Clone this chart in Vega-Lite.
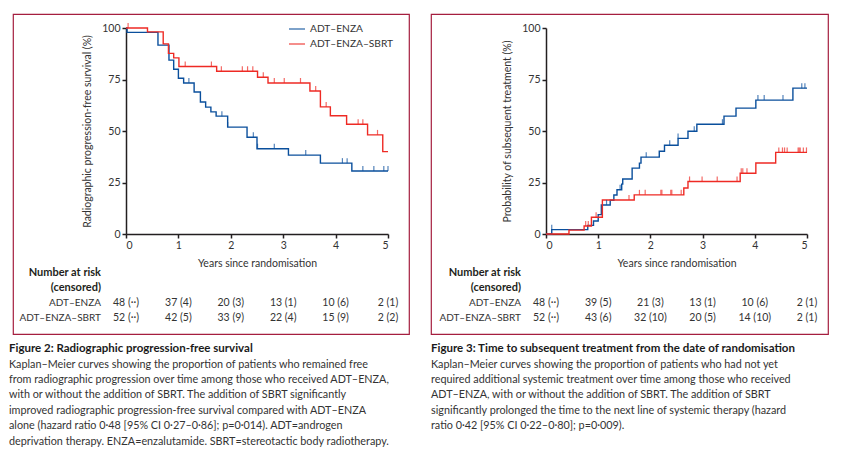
{
  "$schema": "https://vega.github.io/schema/vega-lite/v6.json",
  "background": "white",
  "padding": {"left": 8, "top": 13, "right": 4, "bottom": 0},
  "spacing": 20,
  "config": {
    "font": "Lato",
    "axis": {"grid": false, "domainColor": "#231f20", "domainWidth": 1.5, "tickColor": "#231f20", "tickWidth": 1.5, "tickSize": 4, "labelFont": "Lato", "labelFontSize": 10.5, "labelColor": "#333333", "labelPadding": 2, "titleFont": "Lato", "titleFontWeight": "normal", "titleFontSize": 10.5, "titleColor": "#333333", "minExtent": 0},
    "legend": {"orient": "none", "symbolType": "stroke", "symbolSize": 256, "symbolStrokeWidth": 1.5, "labelFont": "Lato", "labelFontSize": 10.2, "labelColor": "#333333", "labelOffset": 4, "rowPadding": 0, "padding": 0},
    "title": {"orient": "bottom", "anchor": "start", "frame": "group", "font": "Lato", "fontSize": 11.5, "fontWeight": "bold", "color": "#1a1a1a", "subtitleFont": "Lato", "subtitleFontSize": 10.8, "subtitleColor": "#333333", "subtitleLineHeight": 15.4, "subtitlePadding": 4, "offset": 9}
  },
  "datasets": {
    "pfs": [
      {"arm": "ADT–ENZA", "t": 0, "p": 100}, {"arm": "ADT–ENZA", "t": 0.02, "p": 97.9}, {"arm": "ADT–ENZA", "t": 0.61, "p": 91.7}, {"arm": "ADT–ENZA", "t": 0.82, "p": 84.4}, {"arm": "ADT–ENZA", "t": 0.91, "p": 80.0}, {"arm": "ADT–ENZA", "t": 1.0, "p": 75.6}, {"arm": "ADT–ENZA", "t": 1.1, "p": 73.3}, {"arm": "ADT–ENZA", "t": 1.3, "p": 68.9}, {"arm": "ADT–ENZA", "t": 1.42, "p": 64.1}, {"arm": "ADT–ENZA", "t": 1.52, "p": 61.6}, {"arm": "ADT–ENZA", "t": 1.62, "p": 59.3}, {"arm": "ADT–ENZA", "t": 1.72, "p": 57.2}, {"arm": "ADT–ENZA", "t": 1.94, "p": 51.9}, {"arm": "ADT–ENZA", "t": 2.31, "p": 47.0}, {"arm": "ADT–ENZA", "t": 2.5, "p": 41.4}, {"arm": "ADT–ENZA", "t": 3.1, "p": 38.3}, {"arm": "ADT–ENZA", "t": 3.71, "p": 34.4}, {"arm": "ADT–ENZA", "t": 4.31, "p": 30.6}, {"arm": "ADT–ENZA", "t": 5.0, "p": 30.6},
      {"arm": "ADT–ENZA–SBRT", "t": 0, "p": 100}, {"arm": "ADT–ENZA–SBRT", "t": 0.41, "p": 98.1}, {"arm": "ADT–ENZA–SBRT", "t": 0.71, "p": 92.3}, {"arm": "ADT–ENZA–SBRT", "t": 0.81, "p": 87.7}, {"arm": "ADT–ENZA–SBRT", "t": 0.91, "p": 85.5}, {"arm": "ADT–ENZA–SBRT", "t": 1.01, "p": 81.3}, {"arm": "ADT–ENZA–SBRT", "t": 1.73, "p": 79.0}, {"arm": "ADT–ENZA–SBRT", "t": 2.51, "p": 76.1}, {"arm": "ADT–ENZA–SBRT", "t": 2.71, "p": 73.3}, {"arm": "ADT–ENZA–SBRT", "t": 3.51, "p": 69.4}, {"arm": "ADT–ENZA–SBRT", "t": 3.71, "p": 61.7}, {"arm": "ADT–ENZA–SBRT", "t": 3.9, "p": 57.4}, {"arm": "ADT–ENZA–SBRT", "t": 4.21, "p": 53.3}, {"arm": "ADT–ENZA–SBRT", "t": 4.61, "p": 48.1}, {"arm": "ADT–ENZA–SBRT", "t": 4.9, "p": 40.0}, {"arm": "ADT–ENZA–SBRT", "t": 5.0, "p": 40.0}
    ],
    "pfs_c": [
      {"arm": "ADT–ENZA", "t": 1.2, "p": 73.3}, {"arm": "ADT–ENZA", "t": 1.83, "p": 57.2}, {"arm": "ADT–ENZA", "t": 1.94, "p": 51.9}, {"arm": "ADT–ENZA", "t": 2.43, "p": 47.0}, {"arm": "ADT–ENZA", "t": 2.51, "p": 41.4}, {"arm": "ADT–ENZA", "t": 2.83, "p": 41.4}, {"arm": "ADT–ENZA", "t": 3.43, "p": 38.3}, {"arm": "ADT–ENZA", "t": 4.13, "p": 34.4}, {"arm": "ADT–ENZA", "t": 4.22, "p": 34.4}, {"arm": "ADT–ENZA", "t": 4.52, "p": 30.6}, {"arm": "ADT–ENZA", "t": 4.73, "p": 30.6}, {"arm": "ADT–ENZA", "t": 4.92, "p": 30.6}, {"arm": "ADT–ENZA", "t": 5.0, "p": 30.6},
      {"arm": "ADT–ENZA–SBRT", "t": 0.04, "p": 100}, {"arm": "ADT–ENZA–SBRT", "t": 1.13, "p": 81.3}, {"arm": "ADT–ENZA–SBRT", "t": 1.63, "p": 81.3}, {"arm": "ADT–ENZA–SBRT", "t": 1.82, "p": 79.0}, {"arm": "ADT–ENZA–SBRT", "t": 2.22, "p": 79.0}, {"arm": "ADT–ENZA–SBRT", "t": 2.32, "p": 79.0}, {"arm": "ADT–ENZA–SBRT", "t": 2.42, "p": 79.0}, {"arm": "ADT–ENZA–SBRT", "t": 2.62, "p": 76.1}, {"arm": "ADT–ENZA–SBRT", "t": 2.83, "p": 73.3}, {"arm": "ADT–ENZA–SBRT", "t": 3.02, "p": 73.3}, {"arm": "ADT–ENZA–SBRT", "t": 3.33, "p": 73.3}, {"arm": "ADT–ENZA–SBRT", "t": 3.62, "p": 69.4}, {"arm": "ADT–ENZA–SBRT", "t": 3.82, "p": 61.7}, {"arm": "ADT–ENZA–SBRT", "t": 4.43, "p": 53.3}, {"arm": "ADT–ENZA–SBRT", "t": 4.52, "p": 53.3}, {"arm": "ADT–ENZA–SBRT", "t": 4.8, "p": 48.1}
    ],
    "tst": [
      {"arm": "ADT–ENZA", "t": 0, "p": 0}, {"arm": "ADT–ENZA", "t": 0.11, "p": 2.1}, {"arm": "ADT–ENZA", "t": 0.8, "p": 4.2}, {"arm": "ADT–ENZA", "t": 0.91, "p": 6.3}, {"arm": "ADT–ENZA", "t": 1.0, "p": 9.4}, {"arm": "ADT–ENZA", "t": 1.06, "p": 14.1}, {"arm": "ADT–ENZA", "t": 1.23, "p": 16.4}, {"arm": "ADT–ENZA", "t": 1.3, "p": 18.9}, {"arm": "ADT–ENZA", "t": 1.36, "p": 21.5}, {"arm": "ADT–ENZA", "t": 1.45, "p": 24.2}, {"arm": "ADT–ENZA", "t": 1.47, "p": 26.7}, {"arm": "ADT–ENZA", "t": 1.65, "p": 32.0}, {"arm": "ADT–ENZA", "t": 1.79, "p": 34.4}, {"arm": "ADT–ENZA", "t": 1.82, "p": 37.3}, {"arm": "ADT–ENZA", "t": 2.17, "p": 40.2}, {"arm": "ADT–ENZA", "t": 2.27, "p": 43.1}, {"arm": "ADT–ENZA", "t": 2.53, "p": 46.4}, {"arm": "ADT–ENZA", "t": 2.72, "p": 49.9}, {"arm": "ADT–ENZA", "t": 2.89, "p": 53.3}, {"arm": "ADT–ENZA", "t": 3.41, "p": 57.2}, {"arm": "ADT–ENZA", "t": 3.64, "p": 61.1}, {"arm": "ADT–ENZA", "t": 4.02, "p": 65.0}, {"arm": "ADT–ENZA", "t": 4.73, "p": 70.8}, {"arm": "ADT–ENZA", "t": 5.0, "p": 70.8},
      {"arm": "ADT–ENZA–SBRT", "t": 0, "p": 0}, {"arm": "ADT–ENZA–SBRT", "t": 0.44, "p": 1.9}, {"arm": "ADT–ENZA–SBRT", "t": 0.73, "p": 3.9}, {"arm": "ADT–ENZA–SBRT", "t": 0.87, "p": 8.1}, {"arm": "ADT–ENZA–SBRT", "t": 1.08, "p": 16.5}, {"arm": "ADT–ENZA–SBRT", "t": 1.69, "p": 19.0}, {"arm": "ADT–ENZA–SBRT", "t": 2.64, "p": 22.3}, {"arm": "ADT–ENZA–SBRT", "t": 2.72, "p": 25.5}, {"arm": "ADT–ENZA–SBRT", "t": 3.72, "p": 29.5}, {"arm": "ADT–ENZA–SBRT", "t": 4.02, "p": 34.5}, {"arm": "ADT–ENZA–SBRT", "t": 4.4, "p": 39.6}, {"arm": "ADT–ENZA–SBRT", "t": 5.0, "p": 39.6}
    ],
    "tst_c": [
      {"arm": "ADT–ENZA", "t": 0.11, "p": 2.1}, {"arm": "ADT–ENZA", "t": 1.16, "p": 14.1}, {"arm": "ADT–ENZA", "t": 1.42, "p": 21.5}, {"arm": "ADT–ENZA", "t": 1.92, "p": 37.3}, {"arm": "ADT–ENZA", "t": 2.37, "p": 43.1}, {"arm": "ADT–ENZA", "t": 2.53, "p": 46.4}, {"arm": "ADT–ENZA", "t": 2.84, "p": 49.9}, {"arm": "ADT–ENZA", "t": 3.38, "p": 53.3}, {"arm": "ADT–ENZA", "t": 4.06, "p": 65.0}, {"arm": "ADT–ENZA", "t": 4.18, "p": 65.0}, {"arm": "ADT–ENZA", "t": 4.54, "p": 65.0}, {"arm": "ADT–ENZA", "t": 4.9, "p": 70.8}, {"arm": "ADT–ENZA", "t": 4.96, "p": 70.8},
      {"arm": "ADT–ENZA–SBRT", "t": 0.76, "p": 3.9}, {"arm": "ADT–ENZA–SBRT", "t": 0.81, "p": 3.9}, {"arm": "ADT–ENZA–SBRT", "t": 0.96, "p": 8.1}, {"arm": "ADT–ENZA–SBRT", "t": 1.59, "p": 16.5}, {"arm": "ADT–ENZA–SBRT", "t": 1.79, "p": 19.0}, {"arm": "ADT–ENZA–SBRT", "t": 1.9, "p": 19.0}, {"arm": "ADT–ENZA–SBRT", "t": 2.2, "p": 19.0}, {"arm": "ADT–ENZA–SBRT", "t": 2.22, "p": 19.0}, {"arm": "ADT–ENZA–SBRT", "t": 2.39, "p": 19.0}, {"arm": "ADT–ENZA–SBRT", "t": 2.41, "p": 19.0}, {"arm": "ADT–ENZA–SBRT", "t": 2.59, "p": 19.0}, {"arm": "ADT–ENZA–SBRT", "t": 2.75, "p": 25.5}, {"arm": "ADT–ENZA–SBRT", "t": 2.99, "p": 25.5}, {"arm": "ADT–ENZA–SBRT", "t": 3.28, "p": 25.5}, {"arm": "ADT–ENZA–SBRT", "t": 3.66, "p": 25.5}, {"arm": "ADT–ENZA–SBRT", "t": 3.74, "p": 29.5}, {"arm": "ADT–ENZA–SBRT", "t": 3.77, "p": 29.5}, {"arm": "ADT–ENZA–SBRT", "t": 3.85, "p": 29.5}, {"arm": "ADT–ENZA–SBRT", "t": 4.46, "p": 39.6}, {"arm": "ADT–ENZA–SBRT", "t": 4.53, "p": 39.6}, {"arm": "ADT–ENZA–SBRT", "t": 4.57, "p": 39.6}, {"arm": "ADT–ENZA–SBRT", "t": 4.62, "p": 39.6}, {"arm": "ADT–ENZA–SBRT", "t": 4.83, "p": 39.6}, {"arm": "ADT–ENZA–SBRT", "t": 4.85, "p": 39.6}, {"arm": "ADT–ENZA–SBRT", "t": 4.87, "p": 39.6}, {"arm": "ADT–ENZA–SBRT", "t": 4.93, "p": 39.6}, {"arm": "ADT–ENZA–SBRT", "t": 4.99, "p": 39.6}
    ],
    "labels": [
      {"row": "h1", "text": "Number at risk", "kind": "head"},
      {"row": "h2", "text": "(censored)", "kind": "head"},
      {"row": "ADT–ENZA", "text": "ADT–ENZA", "kind": "arm"},
      {"row": "ADT–ENZA–SBRT", "text": "ADT–ENZA–SBRT", "kind": "arm"}
    ],
    "risk2": [
      {"row": "ADT–ENZA", "t": 0, "n": "48 (··)"}, {"row": "ADT–ENZA", "t": 1, "n": "37 (4)"}, {"row": "ADT–ENZA", "t": 2, "n": "20 (3)"}, {"row": "ADT–ENZA", "t": 3, "n": "13 (1)"}, {"row": "ADT–ENZA", "t": 4, "n": "10 (6)"}, {"row": "ADT–ENZA", "t": 5, "n": "2 (1)"},
      {"row": "ADT–ENZA–SBRT", "t": 0, "n": "52 (··)"}, {"row": "ADT–ENZA–SBRT", "t": 1, "n": "42 (5)"}, {"row": "ADT–ENZA–SBRT", "t": 2, "n": "33 (9)"}, {"row": "ADT–ENZA–SBRT", "t": 3, "n": "22 (4)"}, {"row": "ADT–ENZA–SBRT", "t": 4, "n": "15 (9)"}, {"row": "ADT–ENZA–SBRT", "t": 5, "n": "2 (2)"}
    ],
    "risk3": [
      {"row": "ADT–ENZA", "t": 0, "n": "48 (··)"}, {"row": "ADT–ENZA", "t": 1, "n": "39 (5)"}, {"row": "ADT–ENZA", "t": 2, "n": "21 (3)"}, {"row": "ADT–ENZA", "t": 3, "n": "13 (1)"}, {"row": "ADT–ENZA", "t": 4, "n": "10 (6)"}, {"row": "ADT–ENZA", "t": 5, "n": "2 (1)"},
      {"row": "ADT–ENZA–SBRT", "t": 0, "n": "52 (··)"}, {"row": "ADT–ENZA–SBRT", "t": 1, "n": "43 (6)"}, {"row": "ADT–ENZA–SBRT", "t": 2, "n": "32 (10)"}, {"row": "ADT–ENZA–SBRT", "t": 3, "n": "20 (5)"}, {"row": "ADT–ENZA–SBRT", "t": 4, "n": "14 (10)"}, {"row": "ADT–ENZA–SBRT", "t": 5, "n": "2 (1)"}
    ]
  },
  "hconcat": [
    {
      "width": 396, "height": 320,
      "view": {"stroke": "#a51e3f", "strokeWidth": 1.2},
      "title": {
        "text": "Figure 2: Radiographic progression-free survival",
        "dx": -4,
        "subtitle": [
          "Kaplan–Meier curves showing the proportion of patients who remained free",
          "from radiographic progression over time among those who received ADT–ENZA,",
          "with or without the addition of SBRT. The addition of SBRT significantly",
          "improved radiographic progression-free survival compared with ADT–ENZA",
          "alone (hazard ratio 0·48 [95% CI 0·27–0·86]; p=0·014). ADT=androgen",
          "deprivation therapy. ENZA=enzalutamide. SBRT=stereotactic body radiotherapy."
        ]
      },
      "resolve": {"scale": {"y": "independent"}},
      "layer": [
        {
          "layer": [
            {
              "data": {"name": "pfs"},
              "mark": {"type": "line", "interpolate": "step-after", "strokeWidth": 1.4},
              "encoding": {
                "x": {"field": "t", "type": "quantitative", "scale": {"domain": [0, 5], "range": [113, 375], "nice": false}, "axis": {"values": [0, 1, 2, 3, 4, 5], "format": "d", "offset": -100, "title": "Years since randomisation", "titlePadding": 8}},
                "y": {"field": "p", "type": "quantitative", "scale": {"domain": [0, 100], "range": [220, 14], "nice": false}, "axis": {"values": [0, 25, 50, 75, 100], "format": "d", "offset": -113, "title": "Radiographic progression-free survival (%)", "titlePadding": 9}},
                "color": {"field": "arm", "type": "nominal", "scale": {"domain": ["ADT–ENZA", "ADT–ENZA–SBRT"], "range": ["#0a4f9c", "#ee2a24"]}, "legend": {"title": null, "legendX": 275, "legendY": 6}}
              }
            },
            {
              "data": {"name": "pfs_c"},
              "mark": {"type": "tick", "orient": "vertical", "size": 5, "thickness": 1.2, "yOffset": -2.5},
              "encoding": {
                "x": {"field": "t", "type": "quantitative"},
                "y": {"field": "p", "type": "quantitative"},
                "color": {"field": "arm", "type": "nominal"}
              }
            }
          ]
        },
        {
          "layer": [
            {
              "data": {"name": "labels"},
              "transform": [{"filter": "datum.kind === 'head'"}],
              "mark": {"type": "text", "align": "right", "dx": -25, "fontWeight": "bold", "fontSize": 11, "color": "#231f20"},
              "encoding": {
                "x": {"datum": 0},
                "y": {"field": "row", "type": "ordinal", "scale": {"type": "point", "domain": ["h1", "h2", "ADT–ENZA", "ADT–ENZA–SBRT"], "range": [259, 304], "padding": 0}, "axis": null},
                "text": {"field": "text"}
              }
            },
            {
              "data": {"name": "labels"},
              "transform": [{"filter": "datum.kind === 'arm'"}],
              "mark": {"type": "text", "align": "right", "dx": -25, "fontSize": 10, "color": "#333333"},
              "encoding": {
                "x": {"datum": 0},
                "y": {"field": "row", "type": "ordinal"},
                "text": {"field": "text"}
              }
            },
            {
              "data": {"name": "risk2"},
              "mark": {"type": "text", "align": "center", "fontSize": 10.5, "color": "#333333"},
              "encoding": {
                "x": {"field": "t", "type": "quantitative"},
                "y": {"field": "row", "type": "ordinal"},
                "text": {"field": "n"}
              }
            }
          ]
        }
      ]
    },
    {
      "width": 397, "height": 320,
      "view": {"stroke": "#a51e3f", "strokeWidth": 1.2},
      "title": {
        "text": "Figure 3: Time to subsequent treatment from the date of randomisation",
        "subtitle": [
          "Kaplan–Meier curves showing the proportion of patients who had not yet",
          "required additional systemic treatment over time among those who received",
          "ADT–ENZA, with or without the addition of SBRT. The addition of SBRT",
          "significantly prolonged the time to the next line of systemic therapy (hazard",
          "ratio 0·42 [95% CI 0·22–0·80]; p=0·009)."
        ]
      },
      "resolve": {"scale": {"y": "independent"}},
      "layer": [
        {
          "layer": [
            {
              "data": {"name": "tst"},
              "mark": {"type": "line", "interpolate": "step-after", "strokeWidth": 1.4},
              "encoding": {
                "x": {"field": "t", "type": "quantitative", "scale": {"domain": [0, 5], "range": [115, 376], "nice": false}, "axis": {"values": [0, 1, 2, 3, 4, 5], "format": "d", "offset": -100, "title": "Years since randomisation", "titlePadding": 8}},
                "y": {"field": "p", "type": "quantitative", "scale": {"domain": [0, 100], "range": [220, 14], "nice": false}, "axis": {"values": [0, 25, 50, 75, 100], "format": "d", "offset": -115, "title": "Probability of subsequent treatment (%)", "titlePadding": 9}},
                "color": {"field": "arm", "type": "nominal", "scale": {"domain": ["ADT–ENZA", "ADT–ENZA–SBRT"], "range": ["#0a4f9c", "#ee2a24"]}, "legend": {"title": null, "legendX": 276, "legendY": 6}}
              }
            },
            {
              "data": {"name": "tst_c"},
              "mark": {"type": "tick", "orient": "vertical", "size": 5, "thickness": 1.2, "yOffset": -2.5},
              "encoding": {
                "x": {"field": "t", "type": "quantitative"},
                "y": {"field": "p", "type": "quantitative"},
                "color": {"field": "arm", "type": "nominal"}
              }
            }
          ]
        },
        {
          "layer": [
            {
              "data": {"name": "labels"},
              "transform": [{"filter": "datum.kind === 'head'"}],
              "mark": {"type": "text", "align": "right", "dx": -25, "fontWeight": "bold", "fontSize": 11, "color": "#231f20"},
              "encoding": {
                "x": {"datum": 0},
                "y": {"field": "row", "type": "ordinal", "scale": {"type": "point", "domain": ["h1", "h2", "ADT–ENZA", "ADT–ENZA–SBRT"], "range": [259, 304], "padding": 0}, "axis": null},
                "text": {"field": "text"}
              }
            },
            {
              "data": {"name": "labels"},
              "transform": [{"filter": "datum.kind === 'arm'"}],
              "mark": {"type": "text", "align": "right", "dx": -25, "fontSize": 10, "color": "#333333"},
              "encoding": {
                "x": {"datum": 0},
                "y": {"field": "row", "type": "ordinal"},
                "text": {"field": "text"}
              }
            },
            {
              "data": {"name": "risk3"},
              "mark": {"type": "text", "align": "center", "fontSize": 10.5, "color": "#333333"},
              "encoding": {
                "x": {"field": "t", "type": "quantitative"},
                "y": {"field": "row", "type": "ordinal"},
                "text": {"field": "n"}
              }
            }
          ]
        }
      ]
    }
  ]
}
